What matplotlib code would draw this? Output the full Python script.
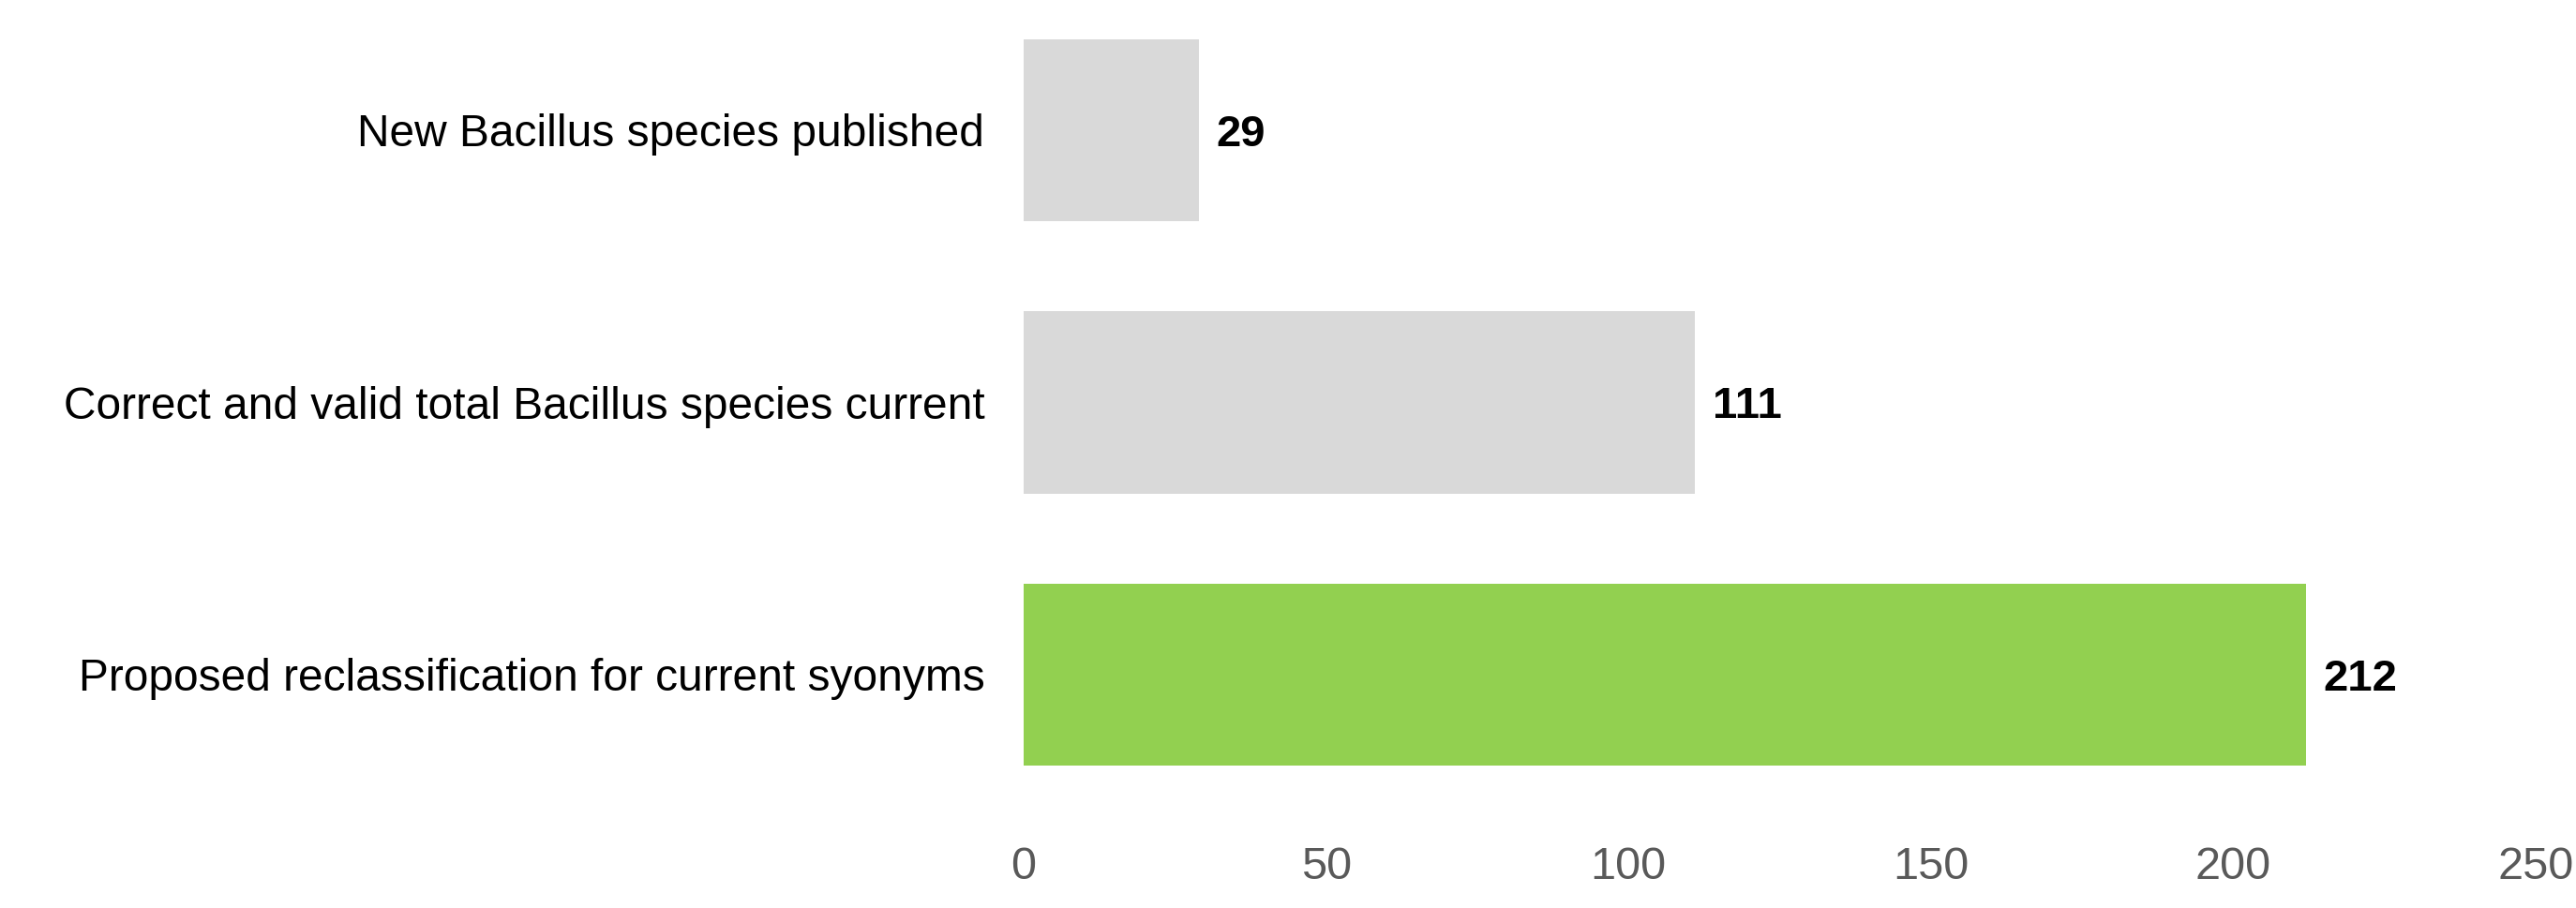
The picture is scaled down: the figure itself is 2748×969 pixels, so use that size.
import matplotlib
matplotlib.use("Agg")
import matplotlib.pyplot as plt
import numpy as np

# --- Data (top to bottom) ---
categories = [
    "New Bacillus species published",
    "Correct and valid total Bacillus species current",
    "Proposed reclassification for current syonyms",
]
counts = [29, 111, 212]
bar_colors = ["#D9D9D9", "#D9D9D9", "#92D050"]
x_ticks = [0, 50, 100, 150, 200, 250]

plt.rcParams["font.family"] = ["Liberation Sans", "DejaVu Sans"]

W, H, DPI = 2748, 969, 100
fig = plt.figure(figsize=(W / DPI, H / DPI), dpi=DPI)

# axes placement in pixels
left_px, right_px = 1092, 2705
top_px, bottom_px = 0, 865
ax = fig.add_axes([left_px / W, 1 - bottom_px / H,
                   (right_px - left_px) / W, (bottom_px - top_px) / H])

ypos = np.arange(len(categories))
ax.barh(ypos, counts, height=0.67, color=bar_colors)

for y, v in zip(ypos, counts):
    ax.annotate(str(v), xy=(v, y), xytext=(13.5, 0), textcoords="offset points",
                ha="left", va="center_baseline", fontsize=34, fontweight="bold",
                color="black")

ax.set_xlim(0, 250)
ax.set_ylim(len(categories) - 0.5, -0.4785)
ax.set_xticks(x_ticks)
ax.set_xticklabels([str(t) for t in x_ticks])
ax.set_yticks(ypos)
ax.set_yticklabels(categories)

ax.tick_params(axis="x", length=0, pad=27, labelsize=35, labelcolor="#595959")
ax.tick_params(axis="y", length=0, pad=30, labelsize=34.5, labelcolor="black")
for s in ax.spines.values():
    s.set_visible(False)

fig.savefig("out.png", dpi=DPI)
plt.close(fig)
